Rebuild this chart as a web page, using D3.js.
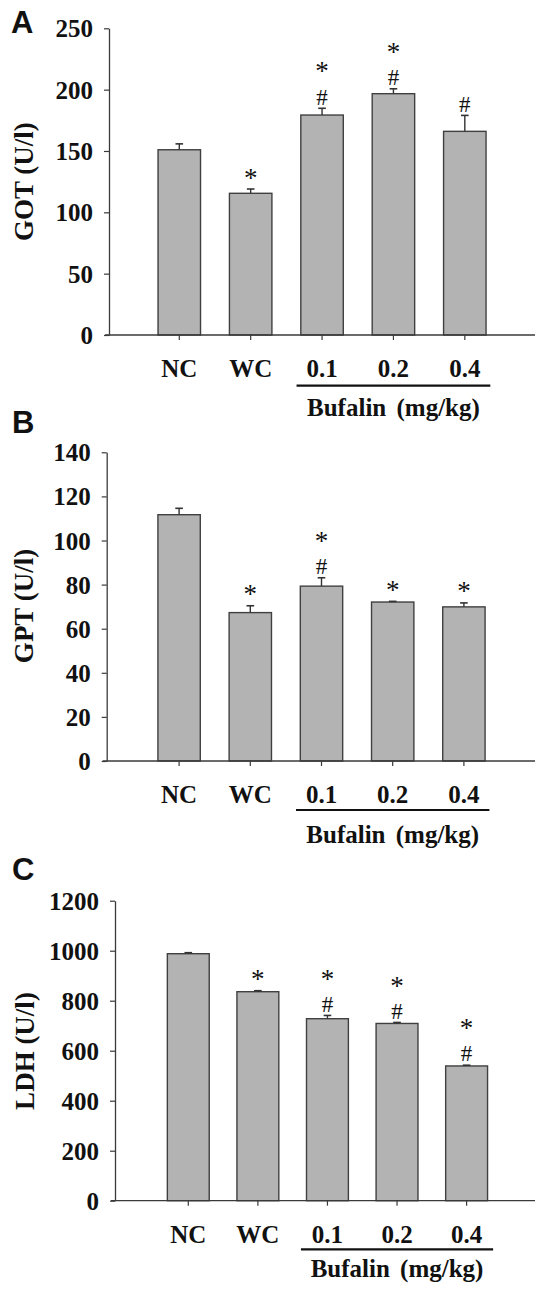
<!DOCTYPE html>
<html>
<head>
<meta charset="utf-8">
<script src="https://cdn.jsdelivr.net/npm/d3@7/dist/d3.min.js"></script>
<style>
  html, body { margin: 0; padding: 0; background: #fff; }
  svg { display: block; }
</style>
</head>
<body>
<script>
// ---------- data ----------
const categories = ["NC", "WC", "0.1", "0.2", "0.4"];

const gotMean = [151, 115.5, 179.3, 196.7, 166];
const gotErr  = [4.8, 3.5, 5.5, 4, 13];
const gotMarks = [[], ["*"], ["#", "*"], ["#", "*"], ["#"]];
const gotTicks = [0, 50, 100, 150, 200, 250];

const gptMean = [111.7, 67.3, 79.3, 72.1, 69.9];
const gptErr  = [2.9, 3.1, 3.8, 0.3, 1.8];
const gptMarks = [[], ["*"], ["#", "*"], ["*"], ["*"]];
const gptTicks = [0, 20, 40, 60, 80, 100, 120, 140];

const ldhMean = [988, 836, 728, 709, 539];
const ldhErr  = [4, 4, 13, 4, 3];
const ldhMarks = [[], ["*"], ["#", "*"], ["#", "*"], ["#", "*"]];
const ldhTicks = [0, 200, 400, 600, 800, 1000, 1200];

const groupLabel = "Bufalin (mg/kg)";
const groupCats = ["0.1", "0.4"];

// ---------- drawing ----------
const W = 538, H = 1295;
const svg = d3.select("body").append("svg").attr("width", W).attr("height", H);

const SERIF = "'Liberation Serif', 'Times New Roman', serif";
const SANS = "'Liberation Sans', Arial, sans-serif";
const INK = "#111";
const AXIS = "#3a3a3a";

function panel(cfg) {
  const g = svg.append("g");
  const x = d3.scaleBand().domain(categories).range(cfg.xRange)
    .paddingInner(cfg.pad).paddingOuter(cfg.pad / 2);
  const y = d3.scaleLinear().domain([0, d3.max(cfg.ticks)]).range([cfg.y0, cfg.yTop]);
  const bw = x.bandwidth();
  const cx = c => x(c) + bw / 2;

  // panel letter
  g.append("text").attr("x", cfg.letterX).attr("y", cfg.letterY)
    .attr("font-family", SANS).attr("font-weight", "bold").attr("font-size", 31)
    .attr("fill", INK).text(cfg.letter);

  // y axis
  const ya = g.append("g").attr("transform", `translate(${cfg.axisX},0)`)
    .call(d3.axisLeft(y).tickValues(cfg.ticks).tickSize(5).tickSizeOuter(0).tickPadding(11).tickFormat(d3.format("d")));
  ya.select(".domain").attr("stroke", AXIS).attr("stroke-width", 1.3);
  ya.selectAll(".tick line").attr("stroke", AXIS).attr("stroke-width", 1.2);
  ya.selectAll(".tick text").attr("font-family", SERIF).attr("font-weight", "bold")
    .attr("font-size", 25).attr("fill", INK).attr("dy", "0.34em");

  // y title
  g.append("text")
    .attr("transform", `translate(${cfg.titleX},${cfg.titleY}) rotate(-90)`)
    .attr("text-anchor", "middle").attr("font-family", SERIF).attr("font-weight", "bold")
    .attr("font-size", 27).attr("fill", INK).text(cfg.title);

  // bars
  g.selectAll("rect.bar").data(categories).join("rect").attr("class", "bar")
    .attr("x", c => x(c)).attr("width", bw)
    .attr("y", (c, i) => y(cfg.means[i]))
    .attr("height", (c, i) => y(0) - y(cfg.means[i]))
    .attr("fill", "#b3b3b3").attr("stroke", "#404040").attr("stroke-width", 1.4);

  // error bars (upper only)
  categories.forEach((c, i) => {
    const top = y(cfg.means[i] + cfg.errs[i]);
    g.append("line").attr("x1", cx(c)).attr("x2", cx(c))
      .attr("y1", y(cfg.means[i])).attr("y2", top)
      .attr("stroke", "#333").attr("stroke-width", 1.4);
    g.append("line").attr("x1", cx(c) - 3.8).attr("x2", cx(c) + 3.8)
      .attr("y1", top).attr("y2", top)
      .attr("stroke", "#333").attr("stroke-width", 1.6);

    // significance marks
    let center = top;
    cfg.marks[i].forEach((m, k) => {
      if (k === 0) center = top - (m === "#" ? 11.5 : 15);
      else center = center - 29;
      const isHash = m === "#";
      const fs = isHash ? 23 : 27;
      const base = center + (isHash ? 0.338 * fs : 0.466 * fs);
      g.append("text").attr("x", cx(c)).attr("y", base)
        .attr("text-anchor", "middle").attr("font-family", SERIF)
        .attr("font-size", fs).attr("fill", INK).text(m);
    });
  });

  // x axis line
  g.append("line").attr("x1", cfg.axisX - 4).attr("x2", cfg.xEnd)
    .attr("y1", cfg.y0).attr("y2", cfg.y0)
    .attr("stroke", AXIS).attr("stroke-width", 1.3);
  // x ticks
  g.selectAll("line.xt").data(categories).join("line").attr("class", "xt")
    .attr("x1", cx).attr("x2", cx).attr("y1", cfg.y0).attr("y2", cfg.y0 + 5)
    .attr("stroke", AXIS).attr("stroke-width", 1.2);
  // x labels
  g.selectAll("text.xl").data(categories).join("text").attr("class", "xl")
    .attr("x", cx).attr("y", cfg.labelBase).attr("text-anchor", "middle")
    .attr("font-family", SERIF).attr("font-weight", "bold").attr("font-size", 25)
    .attr("fill", INK).text(d => d);

  // group underline + label
  const gx1 = cx(groupCats[0]) - cfg.ulPad, gx2 = cx(groupCats[1]) + cfg.ulPad;
  g.append("line").attr("x1", gx1).attr("x2", gx2)
    .attr("y1", cfg.underlineY).attr("y2", cfg.underlineY)
    .attr("stroke", "#111").attr("stroke-width", 2.2);
  g.append("text").attr("x", (cx(groupCats[0]) + cx(groupCats[1])) / 2).attr("y", cfg.bufBase)
    .attr("text-anchor", "middle").attr("font-family", SERIF).attr("font-weight", "bold")
    .attr("font-size", 25).attr("word-spacing", 4).attr("fill", INK).text(groupLabel);
}

panel({
  letter: "A", letterX: 11, letterY: 33,
  axisX: 109, y0: 335, yTop: 28.3, ticks: gotTicks,
  xRange: [143.6, 500.5], pad: 0.405, xEnd: 535,
  means: gotMean, errs: gotErr, marks: gotMarks,
  title: "GOT (U/l)", titleX: 33, titleY: 181.7,
  labelBase: 377, underlineY: 385.7, bufBase: 416, ulPad: 25.5
});

panel({
  letter: "B", letterX: 12, letterY: 433,
  axisX: 106.7, y0: 761, yTop: 452.3, ticks: gptTicks,
  xRange: [143.5, 499.5], pad: 0.405, xEnd: 535,
  means: gptMean, errs: gptErr, marks: gptMarks,
  title: "GPT (U/l)", titleX: 33, titleY: 606,
  labelBase: 803, underlineY: 810, bufBase: 843, ulPad: 25.5
});

panel({
  letter: "C", letterX: 12, letterY: 880,
  axisX: 115, y0: 1200.7, yTop: 900.7, ticks: ldhTicks,
  xRange: [153.5, 501.4], pad: 0.398, xEnd: 535,
  means: ldhMean, errs: ldhErr, marks: ldhMarks,
  title: "LDH (U/l)", titleX: 34, titleY: 1051,
  labelBase: 1243, underlineY: 1249.3, bufBase: 1277, ulPad: 26.5
});
</script>
</body>
</html>
